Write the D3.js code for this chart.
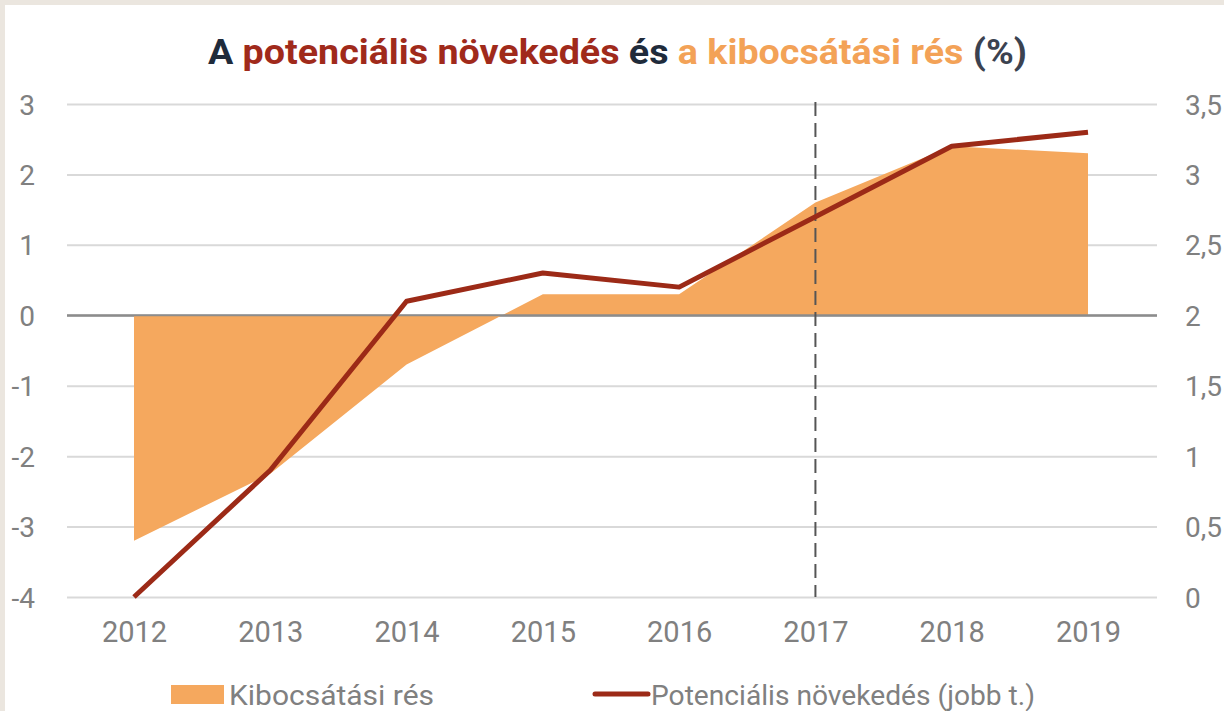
<!DOCTYPE html>
<html>
<head>
<meta charset="utf-8">
<script src="https://cdn.jsdelivr.net/npm/d3@7"></script>
<style>
  html, body { margin: 0; padding: 0; background: #ebe6df; }
  #chart { width: 1224px; height: 711px; }
  text { font-family: Roboto, "Noto Sans", sans-serif; }
</style>
</head>
<body>
<div id="chart"></div>
<script>
// data
const years = [2012, 2013, 2014, 2015, 2016, 2017, 2018, 2019];
const outputGap = [-3.2, -2.25, -0.7, 0.3, 0.3, 1.6, 2.4, 2.3];       // left axis
const potentialGrowth = [0, 0.9, 2.1, 2.3, 2.2, 2.7, 3.2, 3.3];      // right axis
const leftTicks = [-4, -3, -2, -1, 0, 1, 2, 3];
const rightTicks = [0, 0.5, 1, 1.5, 2, 2.5, 3, 3.5];
const forecastYear = 2017;

const W = 1224, H = 711;
const svg = d3.select('#chart').append('svg')
  .attr('width', W).attr('height', H);

// white panel with beige frame
svg.append('rect').attr('x', 5).attr('y', 5)
  .attr('width', W - 5).attr('height', H - 5).attr('fill', '#fff');

const plot = { left: 67, right: 1157, top: 104, bottom: 597 };

const x = d3.scalePoint().domain(years).range([134, 1088]);
const yL = d3.scaleLinear().domain([-4, 3]).range([plot.bottom, plot.top]);
const yR = d3.scaleLinear().domain([0, 3.5]).range([plot.bottom, plot.top]);

// hungarian style: decimal comma, plain hyphen minus
const hu = d3.formatLocale({ decimal: ',', thousands: ' ', grouping: [3], currency: ['', ' Ft'], minus: '-' });
const fmt = hu.format('~g');

// title
const title = svg.append('text')
  .attr('x', 208).attr('y', 64)
  .attr('textLength', 819).attr('lengthAdjust', 'spacingAndGlyphs')
  .style('font-size', '35px').style('font-weight', 700);
const parts = [
  ['A ', '#1f2b3b'],
  ['potenciális növekedés ', '#a02a1b'],
  ['és ', '#1f2b3b'],
  ['a kibocsátási rés ', '#f3a257'],
  ['(%)', '#3b4250'],
];
parts.forEach(([t, c]) => title.append('tspan').attr('fill', c).text(t));

// left axis with grid lines
const gl = svg.append('g')
  .attr('transform', `translate(${plot.left},0)`)
  .call(d3.axisLeft(yL).tickValues(leftTicks).tickFormat(fmt)
    .tickSize(-(plot.right - plot.left)).tickPadding(32));
gl.select('.domain').remove();
gl.selectAll('line')
  .attr('stroke', (d) => (d === 0 ? '#8c8c8c' : '#d9d9d9'))
  .attr('stroke-width', 2);
gl.selectAll('text')
  .attr('fill', '#808080').style('font-size', '28px')
  .attr('dy', '0.36em');

// right axis labels
const gr = svg.append('g')
  .attr('transform', `translate(${plot.right},0)`)
  .call(d3.axisRight(yR).tickValues(rightTicks).tickSize(0).tickPadding(28).tickFormat(fmt));
gr.select('.domain').remove();
gr.selectAll('text')
  .attr('fill', '#808080').style('font-size', '28px')
  .attr('dy', '0.36em');

// x axis labels
const gx = svg.append('g')
  .attr('transform', `translate(0,${plot.bottom})`)
  .call(d3.axisBottom(x).tickSize(0).tickPadding(24).tickFormat(d3.format('d')));
gx.select('.domain').remove();
gx.selectAll('text')
  .attr('fill', '#808080').style('font-size', '29px')
  .attr('dy', '0.71em');

// output gap area
const area = d3.area()
  .x((d, i) => x(years[i]))
  .y0(yL(0))
  .y1((d) => yL(d));
svg.append('path')
  .datum(outputGap)
  .attr('d', area)
  .attr('fill', '#f5a85e');

// redraw zero line above the area
svg.append('line')
  .attr('x1', plot.left).attr('x2', plot.right)
  .attr('y1', yL(0)).attr('y2', yL(0))
  .attr('stroke', '#8c8c8c').attr('stroke-width', 2);

// forecast divider
svg.append('line')
  .attr('x1', x(forecastYear)).attr('x2', x(forecastYear))
  .attr('y1', 102).attr('y2', plot.bottom)
  .attr('stroke', '#555').attr('stroke-width', 2)
  .attr('stroke-dasharray', '14,7');

// potential growth line
const line = d3.line()
  .x((d, i) => x(years[i]))
  .y((d) => yR(d));
svg.append('path')
  .datum(potentialGrowth)
  .attr('d', line)
  .attr('fill', 'none')
  .attr('stroke', '#9c2a17')
  .attr('stroke-width', 5)
  .attr('stroke-linejoin', 'round');

// legend
svg.append('rect')
  .attr('x', 171).attr('y', 685).attr('width', 53).attr('height', 19)
  .attr('fill', '#f5a85e');
svg.append('text')
  .attr('x', 229).attr('y', 705)
  .attr('textLength', 205).attr('lengthAdjust', 'spacingAndGlyphs')
  .attr('fill', '#808080').style('font-size', '27px')
  .text('Kibocsátási rés');

svg.append('line')
  .attr('x1', 595).attr('x2', 648).attr('y1', 694).attr('y2', 694)
  .attr('stroke', '#9c2a17').attr('stroke-width', 5).attr('stroke-linecap', 'round');
svg.append('text')
  .attr('x', 651).attr('y', 705)
  .attr('textLength', 384).attr('lengthAdjust', 'spacingAndGlyphs')
  .attr('fill', '#808080').style('font-size', '27px')
  .text('Potenciális növekedés (jobb t.)');
</script>
</body>
</html>
